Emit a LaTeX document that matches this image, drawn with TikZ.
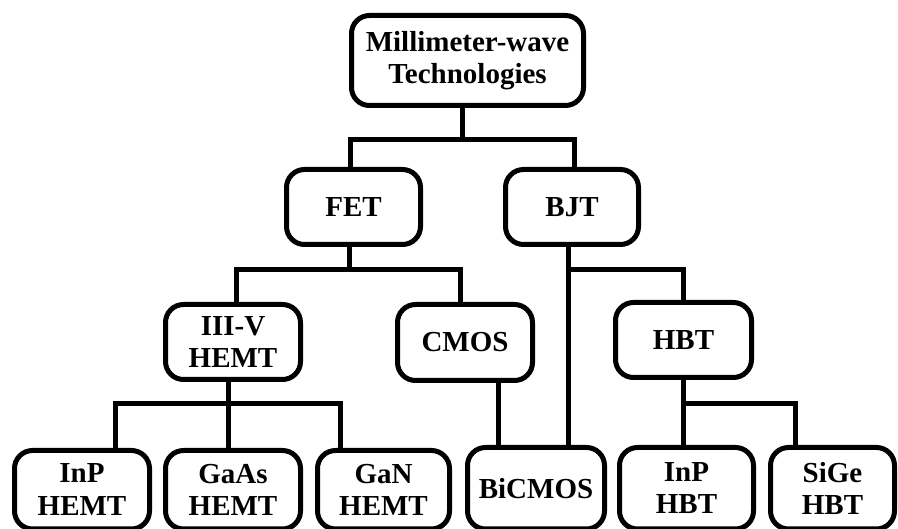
\documentclass[tikz,border=0pt]{standalone}
\usepackage{fontspec}
\setmainfont{Liberation Serif}
\begin{document}
\begin{tikzpicture}[x=1pt,y=-1pt,
  box/.style={draw=black, line width=5pt, rounded corners=18pt, fill=white,
    align=center, inner sep=0pt,
    font=\fontsize{29}{32.5}\selectfont\bfseries},
  link/.style={draw=black, line width=5pt, line join=miter}]
% canvas
\fill[white] (0,0) rectangle (898,529);
\useasboundingbox (0,0) rectangle (898,529);
\begin{scope}
\clip (0,0) rectangle (898,529);
% boxes: minimum sizes measured along the border centre line
\node[box, minimum width=232pt, minimum height=90pt] (root) at (467.5,60.5) {Millimeter-wave\\Technologies};
\node[box, minimum width=134pt, minimum height=75pt] (fet) at (353.5,207) {FET};
\node[box, minimum width=133pt, minimum height=75pt] (bjt) at (572,207) {BJT};
\node[box, minimum width=135pt, minimum height=75pt] (iiiv) at (233,342) {III-V\\HEMT};
\node[box, minimum width=135pt, minimum height=76pt] (cmos) at (465,342.5) {CMOS};
\node[box, minimum width=136pt, minimum height=75pt] (hbt) at (683.5,340) {HBT};
% bottom row: lower border sits on the page edge
\node[box, minimum width=135pt, minimum height=78.5pt] (inphemt) at (82,489.75) {InP\\HEMT};
\node[box, minimum width=135pt, minimum height=78.5pt] (gaas) at (233,489.75) {GaAs\\HEMT};
\node[box, minimum width=132pt, minimum height=78.5pt] (gan) at (383.5,489.75) {GaN\\HEMT};
\node[box, minimum width=137pt, minimum height=81.5pt] (bicmos) at (536,488.25) {BiCMOS};
\node[box, minimum width=134pt, minimum height=81.5pt] (inphbt) at (686.5,488.25) {InP\\HBT};
\node[box, minimum width=124pt, minimum height=81.5pt] (sige) at (832.5,488.25) {SiGe\\HBT};
\end{scope}
% junction points of the tree
\coordinate (r0) at (462,140);
\coordinate (rL) at (350,140);
\coordinate (rR) at (574,140);
\coordinate (f0) at (349,270);
\coordinate (fL) at (236,270);
\coordinate (fR) at (460,270);
\coordinate (b0) at (568,270);
\coordinate (bR) at (683,270);
\coordinate (h0) at (228,404);
\coordinate (hL) at (115,404);
\coordinate (hR) at (340,404);
\coordinate (c0) at (498,400);
\coordinate (t0) at (683,404);
\coordinate (tR) at (795,404);
% connectors
\draw[link] (root.south -| r0) -- (r0);
\draw[link] (fet.north -| rL) -- (rL) -- (rR) -- (bjt.north -| rR);
\draw[link] (fet.south -| f0) -- (f0);
\draw[link] (iiiv.north -| fL) -- (fL) -- (fR) -- (cmos.north -| fR);
\draw[link] (bjt.south -| b0) -- (bicmos.north -| b0);
\draw[link] (b0) -- (bR) -- (hbt.north -| bR);
\draw[link] (iiiv.south -| h0) -- (gaas.north -| h0);
\draw[link] (inphemt.north -| hL) -- (hL) -- (hR) -- (gan.north -| hR);
\draw[link] (cmos.south -| c0) -- (bicmos.north -| c0);
\draw[link] (hbt.south -| t0) -- (inphbt.north -| t0);
\draw[link] (t0) -- (tR) -- (sige.north -| tR);
\end{tikzpicture}
\end{document}
